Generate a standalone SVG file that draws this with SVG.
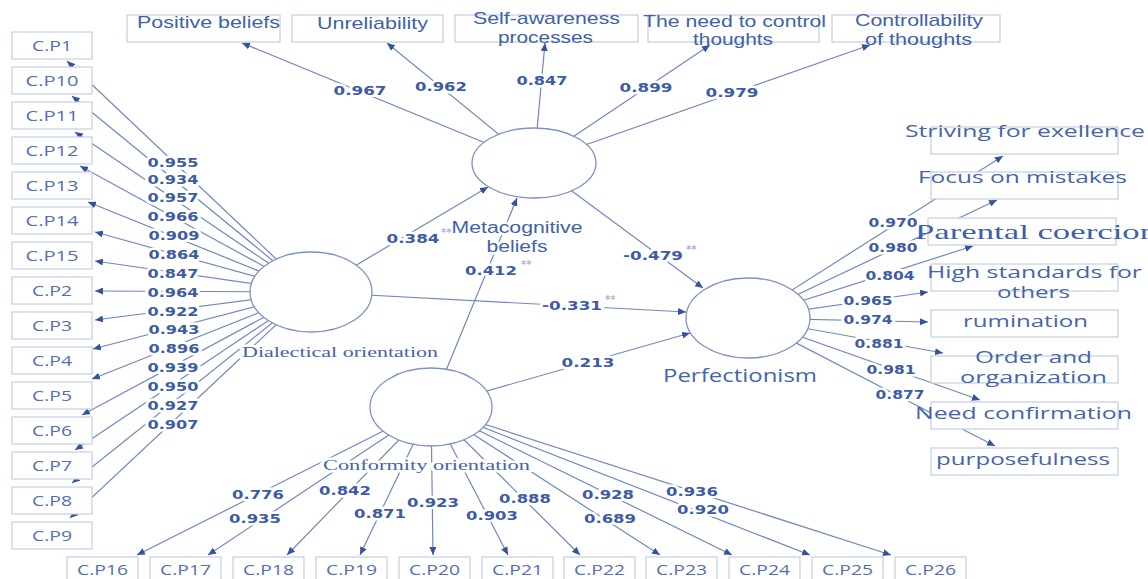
<svg xmlns="http://www.w3.org/2000/svg" width="1148" height="579" viewBox="0 0 1148 579">
<defs>
<marker id="arr" markerUnits="userSpaceOnUse" markerWidth="9" markerHeight="7" refX="8" refY="3.5" orient="auto">
<path d="M0,0 L8,3.5 L0,7 z" fill="#3552a0"/>
</marker>
<style>
.ln{stroke:#7088bf;stroke-width:1.2;fill:none}
.bx{fill:#fff;stroke:#c5cde3;stroke-width:1.2}
.el{fill:#fff;stroke:#7d92c4;stroke-width:1.3}
.cp{font-family:"Open Sans",sans-serif;font-size:14px;fill:#5270b0;text-anchor:middle}
.ar{font-family:"Liberation Sans",Arial,sans-serif;font-size:17px;fill:#4062a8;text-anchor:middle}
.os{font-family:"Open Sans",sans-serif;font-size:17px;fill:#4565ab;text-anchor:middle}
.sf{font-family:"Liberation Serif","Times New Roman",serif;font-size:15px;fill:#4565a8}
.lb{font-family:"DejaVu Sans",sans-serif;font-weight:bold;font-size:13px;fill:#3d5ca3;text-anchor:middle;stroke:#fff;stroke-width:5;paint-order:stroke;stroke-linejoin:round}
.st{font-family:"DejaVu Sans",sans-serif;font-weight:bold;font-size:10px;fill:#a8b6d8}
.halo{stroke:#fff;stroke-width:5;paint-order:stroke;stroke-linejoin:round}
</style>
</defs>
<rect width="1148" height="579" fill="#fff"/>
<g id="connectors">
<g class="ln">
<line x1="311" y1="292" x2="67" y2="61" marker-end="url(#arr)"/>
<line x1="311" y1="292" x2="72" y2="96" marker-end="url(#arr)"/>
<line x1="311" y1="292" x2="75" y2="132" marker-end="url(#arr)"/>
<line x1="311" y1="292" x2="80" y2="166" marker-end="url(#arr)"/>
<line x1="311" y1="292" x2="88" y2="202" marker-end="url(#arr)"/>
<line x1="311" y1="292" x2="95" y2="232" marker-end="url(#arr)"/>
<line x1="311" y1="292" x2="95" y2="261" marker-end="url(#arr)"/>
<line x1="311" y1="292" x2="95" y2="291" marker-end="url(#arr)"/>
<line x1="311" y1="292" x2="95" y2="320" marker-end="url(#arr)"/>
<line x1="311" y1="292" x2="93" y2="349" marker-end="url(#arr)"/>
<line x1="311" y1="292" x2="92" y2="379" marker-end="url(#arr)"/>
<line x1="311" y1="292" x2="82" y2="415" marker-end="url(#arr)"/>
<line x1="311" y1="292" x2="75" y2="450" marker-end="url(#arr)"/>
<line x1="311" y1="292" x2="72" y2="483" marker-end="url(#arr)"/>
<line x1="311" y1="292" x2="70" y2="518" marker-end="url(#arr)"/>
<line x1="431" y1="407" x2="137" y2="555" marker-end="url(#arr)"/>
<line x1="431" y1="407" x2="208" y2="555" marker-end="url(#arr)"/>
<line x1="431" y1="407" x2="287" y2="555" marker-end="url(#arr)"/>
<line x1="431" y1="407" x2="360" y2="555" marker-end="url(#arr)"/>
<line x1="431" y1="407" x2="433" y2="555" marker-end="url(#arr)"/>
<line x1="431" y1="407" x2="508" y2="555" marker-end="url(#arr)"/>
<line x1="431" y1="407" x2="580" y2="555" marker-end="url(#arr)"/>
<line x1="431" y1="407" x2="660" y2="555" marker-end="url(#arr)"/>
<line x1="431" y1="407" x2="732" y2="555" marker-end="url(#arr)"/>
<line x1="431" y1="407" x2="810" y2="555" marker-end="url(#arr)"/>
<line x1="431" y1="407" x2="891" y2="555" marker-end="url(#arr)"/>
<line x1="534" y1="163" x2="242" y2="43" marker-end="url(#arr)"/>
<line x1="534" y1="163" x2="387" y2="43" marker-end="url(#arr)"/>
<line x1="534" y1="163" x2="545" y2="43" marker-end="url(#arr)"/>
<line x1="534" y1="163" x2="710" y2="45" marker-end="url(#arr)"/>
<line x1="534" y1="163" x2="870" y2="45" marker-end="url(#arr)"/>
<line x1="748" y1="318" x2="1003" y2="156" marker-end="url(#arr)"/>
<line x1="748" y1="318" x2="997" y2="200" marker-end="url(#arr)"/>
<line x1="748" y1="318" x2="973" y2="246" marker-end="url(#arr)"/>
<line x1="748" y1="318" x2="928" y2="292" marker-end="url(#arr)"/>
<line x1="748" y1="318" x2="928" y2="322" marker-end="url(#arr)"/>
<line x1="748" y1="318" x2="943" y2="353" marker-end="url(#arr)"/>
<line x1="748" y1="318" x2="980" y2="400" marker-end="url(#arr)"/>
<line x1="748" y1="318" x2="995" y2="446" marker-end="url(#arr)"/>
<line x1="311" y1="292" x2="488" y2="187" marker-end="url(#arr)"/>
<line x1="431" y1="407" x2="517" y2="198" marker-end="url(#arr)"/>
<line x1="534" y1="163" x2="703" y2="288" marker-end="url(#arr)"/>
<line x1="311" y1="292" x2="686" y2="312" marker-end="url(#arr)"/>
<line x1="431" y1="407" x2="690" y2="333" marker-end="url(#arr)"/>
</g>
</g>
<g id="nodes">
<g id="cp1"><rect class="bx" x="12" y="32" width="80" height="27"/><text class="cp" x="52" y="51" textLength="40" lengthAdjust="spacingAndGlyphs">C.P1</text></g>
<g id="cp10"><rect class="bx" x="12" y="67" width="80" height="27"/><text class="cp" x="52" y="86" textLength="53" lengthAdjust="spacingAndGlyphs">C.P10</text></g>
<g id="cp11"><rect class="bx" x="12" y="102" width="80" height="27"/><text class="cp" x="52" y="121" textLength="53" lengthAdjust="spacingAndGlyphs">C.P11</text></g>
<g id="cp12"><rect class="bx" x="12" y="137" width="80" height="27"/><text class="cp" x="52" y="156" textLength="53" lengthAdjust="spacingAndGlyphs">C.P12</text></g>
<g id="cp13"><rect class="bx" x="12" y="172" width="80" height="27"/><text class="cp" x="52" y="191" textLength="53" lengthAdjust="spacingAndGlyphs">C.P13</text></g>
<g id="cp14"><rect class="bx" x="12" y="207" width="80" height="27"/><text class="cp" x="52" y="226" textLength="53" lengthAdjust="spacingAndGlyphs">C.P14</text></g>
<g id="cp15"><rect class="bx" x="12" y="242" width="80" height="27"/><text class="cp" x="52" y="261" textLength="53" lengthAdjust="spacingAndGlyphs">C.P15</text></g>
<g id="cp2"><rect class="bx" x="12" y="277" width="80" height="27"/><text class="cp" x="52" y="296" textLength="40" lengthAdjust="spacingAndGlyphs">C.P2</text></g>
<g id="cp3"><rect class="bx" x="12" y="312" width="80" height="27"/><text class="cp" x="52" y="331" textLength="40" lengthAdjust="spacingAndGlyphs">C.P3</text></g>
<g id="cp4"><rect class="bx" x="12" y="347" width="80" height="27"/><text class="cp" x="52" y="366" textLength="40" lengthAdjust="spacingAndGlyphs">C.P4</text></g>
<g id="cp5"><rect class="bx" x="12" y="382" width="80" height="27"/><text class="cp" x="52" y="401" textLength="40" lengthAdjust="spacingAndGlyphs">C.P5</text></g>
<g id="cp6"><rect class="bx" x="12" y="417" width="80" height="27"/><text class="cp" x="52" y="436" textLength="40" lengthAdjust="spacingAndGlyphs">C.P6</text></g>
<g id="cp7"><rect class="bx" x="12" y="452" width="80" height="27"/><text class="cp" x="52" y="471" textLength="40" lengthAdjust="spacingAndGlyphs">C.P7</text></g>
<g id="cp8"><rect class="bx" x="12" y="487" width="80" height="27"/><text class="cp" x="52" y="506" textLength="40" lengthAdjust="spacingAndGlyphs">C.P8</text></g>
<g id="cp9"><rect class="bx" x="12" y="522" width="80" height="27"/><text class="cp" x="52" y="541" textLength="40" lengthAdjust="spacingAndGlyphs">C.P9</text></g>

<g id="cp16"><rect class="bx" x="67" y="557" width="71" height="28"/><text class="cp" x="102.5" y="575" textLength="51" lengthAdjust="spacingAndGlyphs">C.P16</text></g>
<g id="cp17"><rect class="bx" x="150" y="557" width="71" height="28"/><text class="cp" x="185.5" y="575" textLength="51" lengthAdjust="spacingAndGlyphs">C.P17</text></g>
<g id="cp18"><rect class="bx" x="233" y="557" width="71" height="28"/><text class="cp" x="268.5" y="575" textLength="51" lengthAdjust="spacingAndGlyphs">C.P18</text></g>
<g id="cp19"><rect class="bx" x="316" y="557" width="71" height="28"/><text class="cp" x="351.5" y="575" textLength="51" lengthAdjust="spacingAndGlyphs">C.P19</text></g>
<g id="cp20"><rect class="bx" x="399" y="557" width="71" height="28"/><text class="cp" x="434.5" y="575" textLength="51" lengthAdjust="spacingAndGlyphs">C.P20</text></g>
<g id="cp21"><rect class="bx" x="482" y="557" width="71" height="28"/><text class="cp" x="517.5" y="575" textLength="51" lengthAdjust="spacingAndGlyphs">C.P21</text></g>
<g id="cp22"><rect class="bx" x="564" y="557" width="71" height="28"/><text class="cp" x="599.5" y="575" textLength="51" lengthAdjust="spacingAndGlyphs">C.P22</text></g>
<g id="cp23"><rect class="bx" x="646" y="557" width="71" height="28"/><text class="cp" x="681.5" y="575" textLength="51" lengthAdjust="spacingAndGlyphs">C.P23</text></g>
<g id="cp24"><rect class="bx" x="729" y="557" width="71" height="28"/><text class="cp" x="764.5" y="575" textLength="51" lengthAdjust="spacingAndGlyphs">C.P24</text></g>
<g id="cp25"><rect class="bx" x="812" y="557" width="71" height="28"/><text class="cp" x="847.5" y="575" textLength="51" lengthAdjust="spacingAndGlyphs">C.P25</text></g>
<g id="cp26"><rect class="bx" x="895" y="557" width="71" height="28"/><text class="cp" x="930.5" y="575" textLength="51" lengthAdjust="spacingAndGlyphs">C.P26</text></g>

<g id="positive-beliefs"><rect class="bx" x="127" y="15" width="153" height="27"/><text class="ar" x="208.5" y="28" textLength="143" lengthAdjust="spacingAndGlyphs">Positive beliefs</text></g>
<g id="unreliability"><rect class="bx" x="292" y="15" width="151" height="27"/><text class="ar" x="372.5" y="29" textLength="111" lengthAdjust="spacingAndGlyphs">Unreliability</text></g>
<g id="self-awareness"><rect class="bx" x="455" y="15" width="183" height="27"/><text class="ar" x="546.5" y="24" textLength="147" lengthAdjust="spacingAndGlyphs">Self-awareness</text><text class="ar" x="545.5" y="43" textLength="95" lengthAdjust="spacingAndGlyphs">processes</text></g>
<g id="need-control"><rect class="bx" x="648" y="15" width="171" height="27"/><text class="ar" x="734.5" y="27" textLength="183" lengthAdjust="spacingAndGlyphs">The need to control</text><text class="ar" x="733" y="45" textLength="80" lengthAdjust="spacingAndGlyphs">thoughts</text></g>
<g id="controllability"><rect class="bx" x="832" y="15" width="168" height="27"/><text class="ar" x="919" y="26" textLength="128" lengthAdjust="spacingAndGlyphs">Controllability</text><text class="ar" x="918.5" y="45" textLength="107" lengthAdjust="spacingAndGlyphs">of thoughts</text></g>

<g id="striving"><rect class="bx" x="931" y="127" width="187" height="27"/><text class="os" x="1025" y="137" textLength="240" lengthAdjust="spacingAndGlyphs">Striving for exellence</text></g>
<g id="focus"><rect class="bx" x="931" y="172" width="187" height="27"/><text class="os" x="1022.5" y="183" textLength="209" lengthAdjust="spacingAndGlyphs">Focus on mistakes</text></g>
<g id="parental"><rect class="bx" x="928" y="218" width="188" height="27"/><text x="915" y="239" textLength="242" lengthAdjust="spacingAndGlyphs" style="font-family:'Liberation Serif',serif;font-size:22px;fill:#3f5fa6">Parental coercion</text></g>
<g id="high-standards"><rect class="bx" x="931" y="264" width="187" height="27"/><text class="os" x="1034.5" y="278" textLength="215" lengthAdjust="spacingAndGlyphs">High standards for</text><text class="os" x="1033.5" y="298" textLength="73" lengthAdjust="spacingAndGlyphs">others</text></g>
<g id="rumination"><rect class="bx" x="931" y="310" width="187" height="27"/><text class="os" x="1025.5" y="327" textLength="125" lengthAdjust="spacingAndGlyphs">rumination</text></g>
<g id="order"><rect class="bx" x="931" y="356" width="187" height="27"/><text class="os" x="1033.5" y="363" textLength="117" lengthAdjust="spacingAndGlyphs">Order and</text><text class="os" x="1033.5" y="383" textLength="147" lengthAdjust="spacingAndGlyphs">organization</text></g>
<g id="need-confirmation"><rect class="bx" x="931" y="402" width="187" height="27"/><text class="os" x="1023.5" y="419" textLength="217" lengthAdjust="spacingAndGlyphs">Need confirmation</text></g>
<g id="purposefulness"><rect class="bx" x="931" y="448" width="187" height="27"/><text class="os" x="1023" y="465" textLength="174" lengthAdjust="spacingAndGlyphs">purposefulness</text></g>

<g id="dialectical"><ellipse class="el" cx="311" cy="292" rx="61" ry="40"/><text class="sf halo" x="242" y="357" textLength="196" lengthAdjust="spacingAndGlyphs">Dialectical orientation</text></g>
<g id="conformity"><ellipse class="el" cx="431" cy="407" rx="61" ry="39"/><text class="sf halo" x="323" y="470" textLength="207" lengthAdjust="spacingAndGlyphs">Conformity orientation</text></g>
<g id="metacognitive"><ellipse class="el" cx="534" cy="163" rx="62" ry="35"/><text class="ar halo" x="517" y="233" textLength="131" lengthAdjust="spacingAndGlyphs" style="font-size:16px">Metacognitive</text><text class="ar halo" x="517" y="252" textLength="61" lengthAdjust="spacingAndGlyphs" style="font-size:16px">beliefs</text></g>
<g id="perfectionism"><ellipse class="el" cx="748" cy="318" rx="62" ry="40"/><text class="os" x="740" y="382" textLength="154" lengthAdjust="spacingAndGlyphs" style="font-size:18px">Perfectionism</text></g>
</g>
<g id="connector-labels">
<text class="lb" x="173" y="167" textLength="51" lengthAdjust="spacingAndGlyphs">0.955</text>
<text class="lb" x="173" y="184" textLength="51" lengthAdjust="spacingAndGlyphs">0.934</text>
<text class="lb" x="173" y="202" textLength="51" lengthAdjust="spacingAndGlyphs">0.957</text>
<text class="lb" x="173" y="221" textLength="51" lengthAdjust="spacingAndGlyphs">0.966</text>
<text class="lb" x="174" y="240" textLength="51" lengthAdjust="spacingAndGlyphs">0.909</text>
<text class="lb" x="174" y="259" textLength="51" lengthAdjust="spacingAndGlyphs">0.864</text>
<text class="lb" x="173" y="278" textLength="51" lengthAdjust="spacingAndGlyphs">0.847</text>
<text class="lb" x="173" y="297" textLength="51" lengthAdjust="spacingAndGlyphs">0.964</text>
<text class="lb" x="173" y="316" textLength="51" lengthAdjust="spacingAndGlyphs">0.922</text>
<text class="lb" x="174" y="334" textLength="51" lengthAdjust="spacingAndGlyphs">0.943</text>
<text class="lb" x="174" y="353" textLength="51" lengthAdjust="spacingAndGlyphs">0.896</text>
<text class="lb" x="173" y="372" textLength="51" lengthAdjust="spacingAndGlyphs">0.939</text>
<text class="lb" x="173" y="391" textLength="51" lengthAdjust="spacingAndGlyphs">0.950</text>
<text class="lb" x="173" y="410" textLength="51" lengthAdjust="spacingAndGlyphs">0.927</text>
<text class="lb" x="173" y="429" textLength="51" lengthAdjust="spacingAndGlyphs">0.907</text>

<text class="lb" x="258" y="499" textLength="52" lengthAdjust="spacingAndGlyphs">0.776</text>
<text class="lb" x="255" y="523" textLength="52" lengthAdjust="spacingAndGlyphs">0.935</text>
<text class="lb" x="345" y="495" textLength="52" lengthAdjust="spacingAndGlyphs">0.842</text>
<text class="lb" x="380" y="518" textLength="52" lengthAdjust="spacingAndGlyphs">0.871</text>
<text class="lb" x="433" y="507" textLength="52" lengthAdjust="spacingAndGlyphs">0.923</text>
<text class="lb" x="492" y="520" textLength="52" lengthAdjust="spacingAndGlyphs">0.903</text>
<text class="lb" x="525" y="503" textLength="52" lengthAdjust="spacingAndGlyphs">0.888</text>
<text class="lb" x="610" y="523" textLength="52" lengthAdjust="spacingAndGlyphs">0.689</text>
<text class="lb" x="608" y="499" textLength="52" lengthAdjust="spacingAndGlyphs">0.928</text>
<text class="lb" x="703" y="514" textLength="52" lengthAdjust="spacingAndGlyphs">0.920</text>
<text class="lb" x="692" y="496" textLength="52" lengthAdjust="spacingAndGlyphs">0.936</text>

<text class="lb" x="360" y="95" textLength="53" lengthAdjust="spacingAndGlyphs">0.967</text>
<text class="lb" x="441" y="91" textLength="52" lengthAdjust="spacingAndGlyphs">0.962</text>
<text class="lb" x="542" y="85" textLength="51" lengthAdjust="spacingAndGlyphs">0.847</text>
<text class="lb" x="646" y="92" textLength="53" lengthAdjust="spacingAndGlyphs">0.899</text>
<text class="lb" x="732" y="97" textLength="53" lengthAdjust="spacingAndGlyphs">0.979</text>

<text class="lb" x="893" y="227" textLength="49" lengthAdjust="spacingAndGlyphs">0.970</text>
<text class="lb" x="893" y="252" textLength="49" lengthAdjust="spacingAndGlyphs">0.980</text>
<text class="lb" x="890" y="280" textLength="49" lengthAdjust="spacingAndGlyphs">0.804</text>
<text class="lb" x="868" y="305" textLength="49" lengthAdjust="spacingAndGlyphs">0.965</text>
<text class="lb" x="868" y="324" textLength="49" lengthAdjust="spacingAndGlyphs">0.974</text>
<text class="lb" x="879" y="348" textLength="49" lengthAdjust="spacingAndGlyphs">0.881</text>
<text class="lb" x="891" y="374" textLength="49" lengthAdjust="spacingAndGlyphs">0.981</text>
<text class="lb" x="900" y="399" textLength="49" lengthAdjust="spacingAndGlyphs">0.877</text>

<text class="lb" x="413" y="243" textLength="53" lengthAdjust="spacingAndGlyphs">0.384</text>
<text class="st" x="441" y="236">**</text>
<text class="lb" x="491" y="275" textLength="52" lengthAdjust="spacingAndGlyphs">0.412</text>
<text class="st" x="521" y="268">**</text>
<text class="lb" x="653" y="260" textLength="60" lengthAdjust="spacingAndGlyphs">-0.479</text>
<text class="st" x="686" y="253">**</text>
<text class="lb" x="572" y="310" textLength="60" lengthAdjust="spacingAndGlyphs">-0.331</text>
<text class="st" x="605" y="303">**</text>
<text class="lb" x="588" y="367" textLength="53" lengthAdjust="spacingAndGlyphs">0.213</text>
</g>
</svg>
